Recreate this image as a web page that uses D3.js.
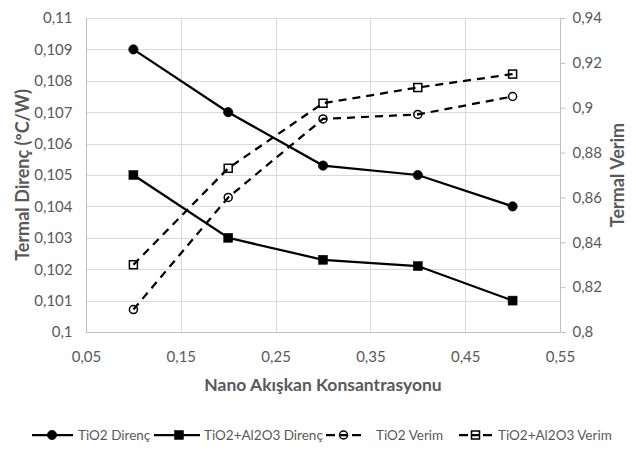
<!DOCTYPE html>
<html>
<head>
<meta charset="utf-8">
<script src="https://cdn.jsdelivr.net/npm/d3@7/dist/d3.min.js"></script>
<style>
  html, body { margin: 0; padding: 0; background: #fff; }
  svg { display: block; font-family: Lato, "Liberation Sans", sans-serif; }
</style>
</head>
<body>
<svg id="chart" width="636" height="452"></svg>
<script>
// ---- data ----
const concentrations = [0.1, 0.2, 0.3, 0.4, 0.5];
const tio2Direnc   = [0.109, 0.107, 0.1053, 0.105, 0.104];
const hybridDirenc = [0.105, 0.103, 0.1023, 0.1021, 0.101];
const tio2Verim    = [0.81, 0.86, 0.895, 0.897, 0.905];
const hybridVerim  = [0.83, 0.873, 0.902, 0.909, 0.915];

const xTicks = [0.05, 0.15, 0.25, 0.35, 0.45, 0.55];
const leftTicks = [0.1, 0.101, 0.102, 0.103, 0.104, 0.105, 0.106, 0.107, 0.108, 0.109, 0.11];
const rightTicks = [0.8, 0.82, 0.84, 0.86, 0.88, 0.9, 0.92, 0.94];

const seriesNames = ["TiO2 Direnç", "TiO2+Al2O3 Direnç", "TiO2 Verim", "TiO2+Al2O3 Verim"];
const xTitle = "Nano Akışkan Konsantrasyonu";
const yLeftTitle = "Termal Direnç (ºC/W)";
const yRightTitle = "Termal Verim";

// ---- layout ----
const plot = { left: 86, right: 560, top: 18, bottom: 332 };
const svg = d3.select("#chart");
const grid = "#d9d9d9", axisCol = "#bfbfbf", textCol = "#595959";
const fmt = v => String(v).replace(".", ",");

const x = d3.scaleLinear().domain([0.05, 0.55]).range([plot.left, plot.right]);
const yL = d3.scaleLinear().domain([0.1, 0.11]).range([plot.bottom, plot.top]);
const yR = d3.scaleLinear().domain([0.8, 0.94]).range([plot.bottom, plot.top]);

// gridlines
svg.append("g").selectAll("line").data(leftTicks.slice(1)).join("line")
  .attr("x1", plot.left).attr("x2", plot.right)
  .attr("y1", d => Math.round(yL(d)) + 0.5).attr("y2", d => Math.round(yL(d)) + 0.5)
  .attr("stroke", grid).attr("stroke-width", 1);
svg.append("g").selectAll("line").data(xTicks.slice(1, -1)).join("line")
  .attr("x1", d => Math.round(x(d)) + 0.5).attr("x2", d => Math.round(x(d)) + 0.5)
  .attr("y1", plot.top).attr("y2", plot.bottom)
  .attr("stroke", grid).attr("stroke-width", 1);

// axes
const axL = svg.append("g").attr("transform", `translate(${plot.left + 0.5},0)`)
  .call(d3.axisLeft(yL).tickValues(leftTicks).tickFormat(fmt).tickSize(0).tickPadding(14));
const axR = svg.append("g").attr("transform", `translate(${plot.right + 0.5},0)`)
  .call(d3.axisRight(yR).tickValues(rightTicks).tickFormat(fmt).tickSize(5).tickPadding(7));
const axB = svg.append("g").attr("transform", `translate(0,${plot.bottom + 0.5})`)
  .call(d3.axisBottom(x).tickValues(xTicks).tickFormat(fmt).tickSize(0).tickPadding(19));
[axL, axR, axB].forEach(g => {
  g.select(".domain").attr("stroke", axisCol).attr("stroke-width", 1);
  g.selectAll(".tick line").attr("stroke", axisCol);
  g.selectAll("text").attr("fill", textCol).style("font-size", "15px").style("font-family", "Lato, sans-serif");
});
axL.select(".domain").attr("d", `M0,${plot.top}V${plot.bottom}`);
axR.select(".domain").attr("d", `M0,${plot.top}V${plot.bottom}`);
axB.select(".domain").attr("d", `M${plot.left},0H${plot.right}`);

// axis titles
svg.append("text").attr("x", (plot.left + plot.right) / 2).attr("y", 391)
  .attr("text-anchor", "middle").attr("fill", textCol)
  .style("font-size", "17.5px").style("font-weight", "bold").text(xTitle);
svg.append("text").attr("transform", `translate(29,${(plot.top + plot.bottom) / 2}) rotate(-90)`)
  .attr("text-anchor", "middle").attr("fill", textCol)
  .style("font-size", "18px").style("font-weight", "bold").text(yLeftTitle);
svg.append("text").attr("transform", `translate(624,${(plot.top + plot.bottom) / 2}) rotate(-90)`)
  .attr("text-anchor", "middle").attr("fill", textCol)
  .style("font-size", "18px").style("font-weight", "bold").text(yRightTitle);

// series
const series = [
  { name: seriesNames[0], vals: tio2Direnc, y: yL, dash: null, marker: "circle", fill: "#000" },
  { name: seriesNames[1], vals: hybridDirenc, y: yL, dash: null, marker: "square", fill: "#000" },
  { name: seriesNames[2], vals: tio2Verim, y: yR, dash: "8,6", marker: "circle", fill: "none" },
  { name: seriesNames[3], vals: hybridVerim, y: yR, dash: "8,6", marker: "square", fill: "none" }
];

function drawMarker(g, type, cx, cy, filled) {
  if (type === "circle") {
    g.append("circle").attr("cx", cx).attr("cy", cy).attr("r", filled ? 4.6 : 4)
      .attr("fill", filled ? "#000" : "none").attr("stroke", "#000").attr("stroke-width", filled ? 0.8 : 1.5);
  } else {
    const s = filled ? 9 : 8;
    g.append("rect").attr("x", cx - s / 2).attr("y", cy - s / 2).attr("width", s).attr("height", s)
      .attr("fill", filled ? "#000" : "none").attr("stroke", "#000").attr("stroke-width", filled ? 0.5 : 1.5);
  }
}

series.forEach(s => {
  const pts = concentrations.map((c, i) => [x(c), s.y(s.vals[i])]);
  const g = svg.append("g");
  g.append("path").attr("d", d3.line()(pts)).attr("fill", "none")
    .attr("stroke", "#000").attr("stroke-width", 2.25)
    .attr("stroke-dasharray", s.dash);
  pts.forEach(p => drawMarker(g, s.marker, p[0], p[1], s.fill !== "none"));
});

// legend
const legendY = 435;
const legendItems = [
  { lineX: [32, 73], mx: 52, tx: 78, dash: null },
  { lineX: [154, 200], mx: 179, tx: 204, dash: null },
  { lineX: [326, 361], mx: 343.5, tx: 376, dash: "9,4" },
  { lineX: [459, 492], mx: 475.5, tx: 498, dash: "9,3.5,8,3.5,9" }
];
legendItems.forEach((it, i) => {
  const s = series[i];
  const g = svg.append("g");
  g.append("line").attr("x1", it.lineX[0]).attr("x2", it.lineX[1])
    .attr("y1", legendY).attr("y2", legendY)
    .attr("stroke", "#000").attr("stroke-width", 2.25).attr("stroke-dasharray", it.dash);
  drawMarker(g, s.marker, it.mx, legendY, s.fill !== "none");
  g.append("text").attr("x", it.tx).attr("y", legendY).attr("dy", "0.35em")
    .attr("fill", textCol).style("font-size", "13.5px").text(s.name);
});
</script>
</body>
</html>
